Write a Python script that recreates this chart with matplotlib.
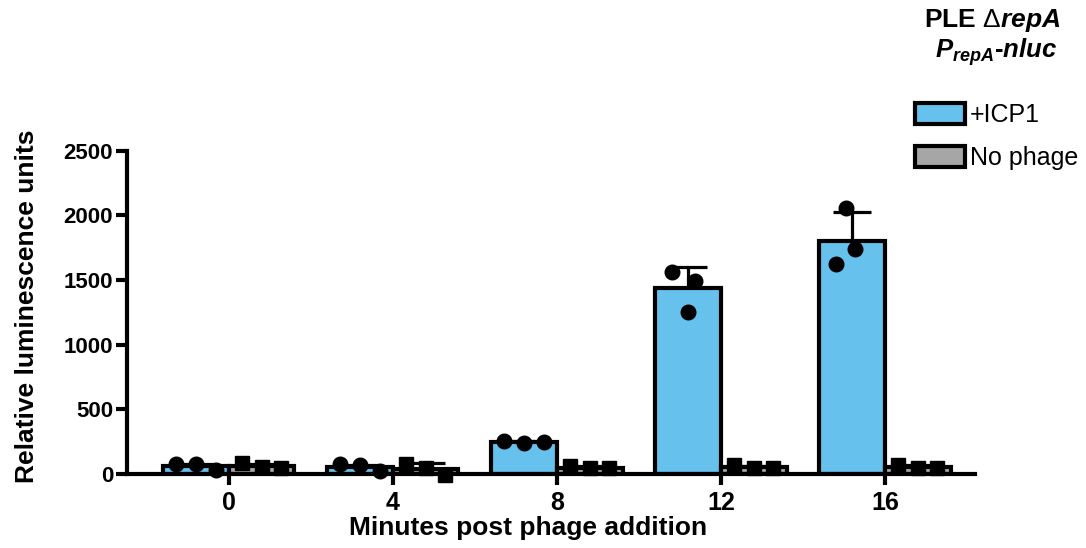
import numpy as np
import matplotlib.pyplot as plt
from matplotlib.patches import Patch

plt.rcParams['font.family'] = ['Liberation Sans', 'DejaVu Sans']
plt.rcParams['mathtext.fontset'] = 'custom'
plt.rcParams['mathtext.rm'] = 'Liberation Sans'
plt.rcParams['mathtext.it'] = 'Liberation Sans:italic'
plt.rcParams['mathtext.bf'] = 'Liberation Sans:bold'
plt.rcParams['mathtext.bfit'] = 'Liberation Sans:italic:bold'

# ---- data ----
minutes = ['0', '4', '8', '12', '16']

icp1_mean = [60, 55, 245, 1435, 1805]
icp1_sd = [15, 12, 10, 165, 220]
icp1_reps = [[80, 75, 30], [75, 70, 25], [255, 240, 245], [1560, 1495, 1255], [2055, 1740, 1625]]

nophage_mean = [60, 40, 50, 55, 55]
nophage_sd = [15, 45, 10, 10, 12]
nophage_reps = [[85, 55, 45], [75, 50, -10], [60, 50, 45], [70, 50, 50], [70, 50, 45]]

# horizontal scatter of replicate dots inside each bar
icp1_jit = [[-0.12, 0.0, 0.12], [-0.12, 0.0, 0.12], [-0.12, 0.0, 0.12],
            [-0.10, 0.04, 0.0], [-0.04, 0.02, -0.10]]
noph_jit = [[-0.12, 0.0, 0.12]] * 5

blue = '#67c1ed'
grey = '#a6a6a6'

fig = plt.figure(figsize=(10.86, 5.48), dpi=100)
ax = fig.add_axes([0.117, 0.135, 0.781, 0.59])

x = np.arange(len(minutes))
w = 0.4
lw = 3.0

for xs, means, sds, reps, jit, col, mk, ms in [
        (x - w / 2, icp1_mean, icp1_sd, icp1_reps, icp1_jit, blue, 'o', 10.5),
        (x + w / 2, nophage_mean, nophage_sd, nophage_reps, noph_jit, grey, 's', 9.5)]:
    ax.errorbar(xs, means, yerr=sds, fmt='none', ecolor='black', elinewidth=2.3,
                capsize=14, capthick=2.3, zorder=1)
    ax.bar(xs, means, width=w, color=col, edgecolor='black', linewidth=lw, zorder=2)
    for xi, r, j in zip(xs, reps, jit):
        ax.plot(xi + np.array(j), r, linestyle='none', marker=mk, color='black',
                markersize=ms, zorder=3, clip_on=False)

ax.set_xlim(-0.62, 4.55)
ax.set_ylim(0, 2500)
ax.set_yticks([0, 500, 1000, 1500, 2000, 2500])
ax.set_xticks(x)
ax.set_xticklabels(minutes)
for s in ['top', 'right']:
    ax.spines[s].set_visible(False)
for s in ['left', 'bottom']:
    ax.spines[s].set_linewidth(3.0)
ax.tick_params(axis='both', width=3.0, length=8, pad=2)
ax.tick_params(axis='y', labelsize=16)
ax.tick_params(axis='x', labelsize=18, pad=4)
for lab in ax.get_xticklabels() + ax.get_yticklabels():
    lab.set_fontweight('bold')

ax.set_ylabel('Relative luminescence units', fontsize=19, fontweight='bold')
ax.set_xlabel('Minutes post phage addition', fontsize=19, fontweight='bold', labelpad=0)
ax.xaxis.set_label_coords(0.473, -0.13)
ax.yaxis.set_label_coords(-0.104, 0.52)

# legend title, two centred lines
fig.text(0.914, 0.963, r'PLE $\Delta\mathbfit{repA}$', ha='center', va='center',
         fontsize=19, fontweight='bold')
fig.text(0.917, 0.905, r'$\mathbfit{P}_{\mathbfit{repA}}$' + '-' + r'$\mathbfit{nluc}$',
         ha='center', va='center', fontsize=18.5, fontweight='bold')

handles = [Patch(facecolor=blue, edgecolor='black', linewidth=3.0, label='+ICP1'),
           Patch(facecolor=grey, edgecolor='black', linewidth=3.0, label='No phage')]
leg = fig.legend(handles=handles, loc='upper left',
                 bbox_to_anchor=(915 / 1086, 1 - 103 / 548),
                 frameon=False, fontsize=18, borderpad=0, borderaxespad=0,
                 handlelength=2.0, handleheight=0.9, handletextpad=0.2,
                 labelspacing=0.75)

fig.savefig('out.png', dpi=100)
